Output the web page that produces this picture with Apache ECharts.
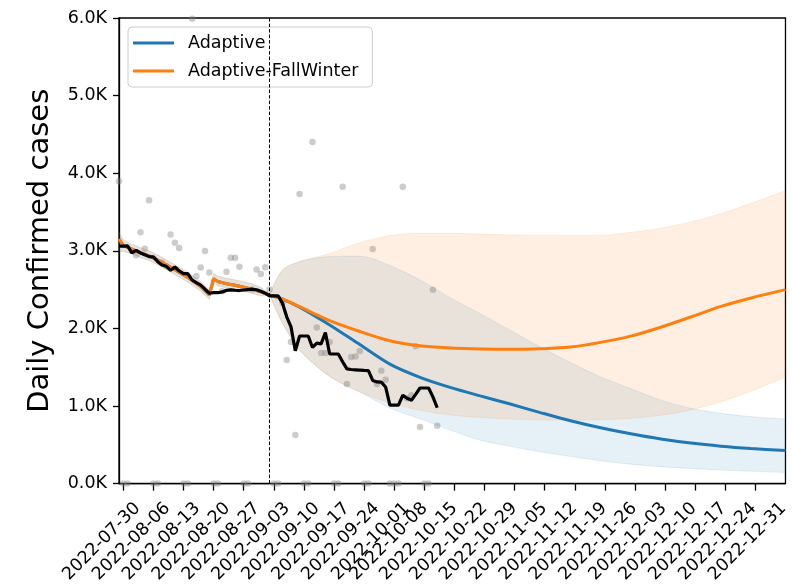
<!DOCTYPE html>
<html>
<head>
<meta charset="utf-8">
<script src="https://cdn.jsdelivr.net/npm/echarts@6/dist/echarts.min.js"></script>
<style>
  html, body { margin: 0; padding: 0; background: #fff; }
  #chart { width: 792px; height: 586px; }
</style>
</head>
<body>
<div id="chart"></div>
<script>
// x values are days counted from 2022-07-30 (day 0).

// Daily reported cases, one value per day from day -1 (2022-07-29) to day 73 (2022-10-11)
const obsFirstDay = -1;
const dailyCases = [3897, 0, 0, 3000, 2942, 3239, 3026, 3650, 0, 0, 2850, 2800, 3210, 3103, 3035,
  0, 0, 5990, 2675, 2784, 2997, 2721, 0, 0, 2480, 2730, 2912, 2912, 2793, 0, 0, 2500, 2759, 2700,
  2787, 2501, 0, 0, 2330, 1593, 1826, 626, 3731, 0, 0, 4401, 2013, 1682, 1682, 1826, 0, 0, 3824,
  1283, 1631, 1639, 1708, 0, 0, 3022, 1283, 1453, 1339, 0, 0, 0, 3824, 1100, 1139, 1771, 728, 0,
  0, 2497, 744];

// Smoothed observed cases, same days as dailyCases
const smoothedCases = [3060, 3060, 3063, 2972, 3005, 2972, 2950, 2925, 2921, 2860, 2816, 2800, 2750,
  2792, 2740, 2707, 2707, 2622, 2590, 2558, 2505, 2453, 2460, 2460, 2470, 2490, 2497, 2492, 2488,
  2495, 2500, 2505, 2498, 2478, 2454, 2420, 2420, 2420, 2326, 2150, 2020, 1711, 1902, 1902, 1902,
  1754, 1810, 1800, 1945, 1670, 1670, 1670, 1570, 1479, 1470, 1466, 1462, 1458, 1457, 1330, 1310,
  1308, 1245, 1012, 1012, 1012, 1139, 1100, 1075, 1150, 1232, 1232, 1232, 1117, 977];

// Model fit over the calibration window (shared by both scenarios)
const fitDays = [-1, 0, 2, 4, 6, 8, 10, 12, 14, 16, 18, 20, 21, 22, 24, 26, 28, 30, 32, 34];
const fitMean = [3150, 3068, 3020, 2975, 2935, 2880, 2820, 2755, 2690, 2620, 2540, 2430, 2640, 2605, 2575, 2555, 2530, 2505, 2470, 2430];
const fitHigh = [3240, 3140, 3085, 3040, 3000, 2945, 2885, 2820, 2755, 2685, 2605, 2495, 2705, 2675, 2645, 2625, 2600, 2575, 2530, 2440];
const fitLow  = [2990, 2995, 2960, 2915, 2875, 2820, 2760, 2695, 2630, 2560, 2480, 2375, 2590, 2550, 2520, 2500, 2475, 2450, 2420, 2420];

// Forecast start (dashed line) and projections
const forecastStartDay = 34;
const fcDays = [34, 37, 41, 48, 55, 62, 69, 76, 83, 90, 97, 104, 111, 118, 125, 132, 139, 146, 154];
const adaptiveMean = [2430, 2378, 2275, 2045, 1792, 1540, 1370, 1240, 1130, 1025, 915, 810, 720, 642, 575, 522, 482, 452, 426];
const adaptiveHigh = [2430, 2750, 2860, 2925, 2930, 2810, 2625, 2395, 2190, 1975, 1760, 1560, 1375, 1225, 1075, 970, 905, 862, 833];
const adaptiveLow  = [2430, 2070, 1720, 1380, 1180, 975, 835, 690, 560, 480, 410, 350, 295, 250, 218, 195, 175, 160, 143];
const fallWinterMean = [2430, 2380, 2280, 2100, 1960, 1840, 1775, 1748, 1735, 1730, 1738, 1760, 1820, 1900, 2015, 2147, 2283, 2392, 2500];
const fallWinterHigh = [2430, 2750, 2860, 2965, 3105, 3195, 3225, 3225, 3215, 3205, 3200, 3197, 3200, 3237, 3292, 3372, 3478, 3612, 3775];
const fallWinterLow  = [2430, 2070, 1720, 1380, 1180, 1042, 946, 885, 852, 833, 820, 818, 822, 842, 880, 950, 1055, 1190, 1375];

// Axis ticks and labels
const tickDays = [0, 7, 14, 21, 28, 35, 42, 49, 56, 63, 70, 77, 84, 91, 98, 105, 112, 119, 126, 133, 140, 147];
const dateLabels = ['2022-07-30', '2022-08-06', '2022-08-13', '2022-08-20', '2022-08-27', '2022-09-03',
  '2022-09-10', '2022-09-17', '2022-09-24', '2022-10-01', '2022-10-08', '2022-10-15', '2022-10-22',
  '2022-10-29', '2022-11-05', '2022-11-12', '2022-11-19', '2022-11-26', '2022-12-03', '2022-12-10',
  '2022-12-17', '2022-12-24', '2022-12-31'];
const yTicks = [0, 1000, 2000, 3000, 4000, 5000, 6000];

const FONT = 'DejaVu Sans';
const BLUE = '#1f77b4';
const ORANGE = '#ff7f0e';
const BLUE_FILL = 'rgba(31,119,180,0.11)';
const ORANGE_FILL = 'rgba(255,127,14,0.12)';

// label anchor positions (two runs of weekly labels)
const LABEL_STEP = 6.951;
const labelDays = dateLabels.map((_, i) => i < 10 ? 3.33 + i * LABEL_STEP : 70.13 + (i - 10) * LABEL_STEP);
function dateLabelAt(v) {
  for (let i = 0; i < labelDays.length; i++) {
    if (Math.abs(labelDays[i] - v) < 0.01) return dateLabels[i];
  }
  return '';
}

const pairs = (xs, ys) => xs.map((x, i) => [x, ys[i]]);
const obsPairs = arr => arr.map((v, i) => [obsFirstDay + i, v]);

// Bands are stacked line areas: lower bound + (upper - lower).
// Values come first in each item so the stack runs on the y dimension.
function band(name, xs, lo, hi, fill, stack, smooth) {
  const common = {
    type: 'line', stack: stack, stackStrategy: 'all', encode: { x: 1, y: 0 },
    showSymbol: false, smooth: smooth, silent: true, z: 1,
    lineStyle: { color: fill, width: 1 }
  };
  return [
    Object.assign({ name: name + ' low', data: xs.map((x, i) => [lo[i], x]) }, common),
    Object.assign({
      name: name + ' high', data: xs.map((x, i) => [hi[i] - lo[i], x]),
      areaStyle: { color: fill, opacity: 1 }
    }, common)
  ];
}

function meanLine(name, xs, ys, color, smooth) {
  return {
    name: name, type: 'line', data: pairs(xs, ys), showSymbol: false, smooth: smooth,
    lineStyle: { color: color, width: 3 }, itemStyle: { color: color }, z: 3
  };
}

const SMOOTH = 0.3;

const option = {
  animation: false,
  grid: {
    left: 119, top: 18, width: 669, height: 471.5,
    show: true, borderColor: '#000', borderWidth: 1.3, backgroundColor: 'transparent'
  },
  legend: {
    orient: 'vertical', left: 128, top: 27,
    padding: [7, 14, 7, 5], itemGap: 10,
    itemWidth: 50, itemHeight: 3,
    icon: 'path://M0,0h41v3h-41zM50,0v3',
    backgroundColor: 'rgba(255,255,255,0.8)', borderColor: '#cccccc', borderWidth: 1, borderRadius: 4,
    selectedMode: false,
    itemStyle: { borderWidth: 0 },
    textStyle: { fontFamily: FONT, fontSize: 17.5, lineHeight: 18, color: '#000' },
    data: [
      { name: 'Adaptive', itemStyle: { color: BLUE } },
      { name: 'Adaptive-FallWinter', itemStyle: { color: ORANGE } }
    ]
  },
  xAxis: {
    type: 'value', min: -1, max: 154,
    splitLine: { show: false },
    axisLine: { onZero: false, lineStyle: { color: '#000', width: 1.3 } },
    axisTick: { customValues: tickDays, length: 7, lineStyle: { color: '#000', width: 1.3 } },
    axisLabel: {
      customValues: labelDays, formatter: dateLabelAt, rotate: 45, margin: 22,
      fontFamily: FONT, fontSize: 17.5, color: '#000'
    }
  },
  yAxis: {
    type: 'value', min: 0, max: 6000,
    name: 'Daily Confirmed cases', nameLocation: 'middle', nameGap: 64,
    nameTextStyle: { fontFamily: FONT, fontSize: 29, lineHeight: 29, color: '#000' },
    splitLine: { show: false },
    axisLine: { show: true, onZero: false, lineStyle: { color: '#000', width: 1.3 } },
    axisTick: { customValues: yTicks, length: 6, lineStyle: { color: '#000', width: 1.3 } },
    axisLabel: {
      customValues: yTicks, margin: 12,
      formatter: v => (v / 1000).toFixed(1) + 'K',
      fontFamily: FONT, fontSize: 17.5, color: '#000'
    }
  },
  series: [].concat(
    band('Adaptive fit', fitDays, fitLow, fitHigh, BLUE_FILL, 'fitA', false),
    band('FallWinter fit', fitDays, fitLow, fitHigh, ORANGE_FILL, 'fitF', false),
    band('Adaptive forecast', fcDays, adaptiveLow, adaptiveHigh, BLUE_FILL, 'fcA', SMOOTH),
    band('FallWinter forecast', fcDays, fallWinterLow, fallWinterHigh, ORANGE_FILL, 'fcF', SMOOTH),
    [
      {
        name: 'Daily cases', type: 'scatter', data: obsPairs(dailyCases),
        symbolSize: 6.5, itemStyle: { color: 'rgba(128,128,128,0.5)' }, z: 2, silent: true
      },
      meanLine('Adaptive', fitDays, fitMean, BLUE, false),
      meanLine('Adaptive', fcDays, adaptiveMean, BLUE, SMOOTH),
      meanLine('Adaptive-FallWinter', fitDays, fitMean, ORANGE, false),
      meanLine('Adaptive-FallWinter', fcDays, fallWinterMean, ORANGE, SMOOTH),
      {
        name: 'Smoothed cases', type: 'line', data: obsPairs(smoothedCases), showSymbol: false,
        lineStyle: { color: '#000', width: 3.2 }, z: 4,
        markLine: {
          silent: true, symbol: ['none', 'none'], label: { show: false },
          lineStyle: { color: '#000', width: 1, type: [3.5, 2] },
          data: [{ xAxis: forecastStartDay }]
        }
      }
    ]
  )
};

const chart = echarts.init(document.getElementById('chart'), null, { renderer: 'canvas' });
chart.setOption(option);
</script>
</body>
</html>
